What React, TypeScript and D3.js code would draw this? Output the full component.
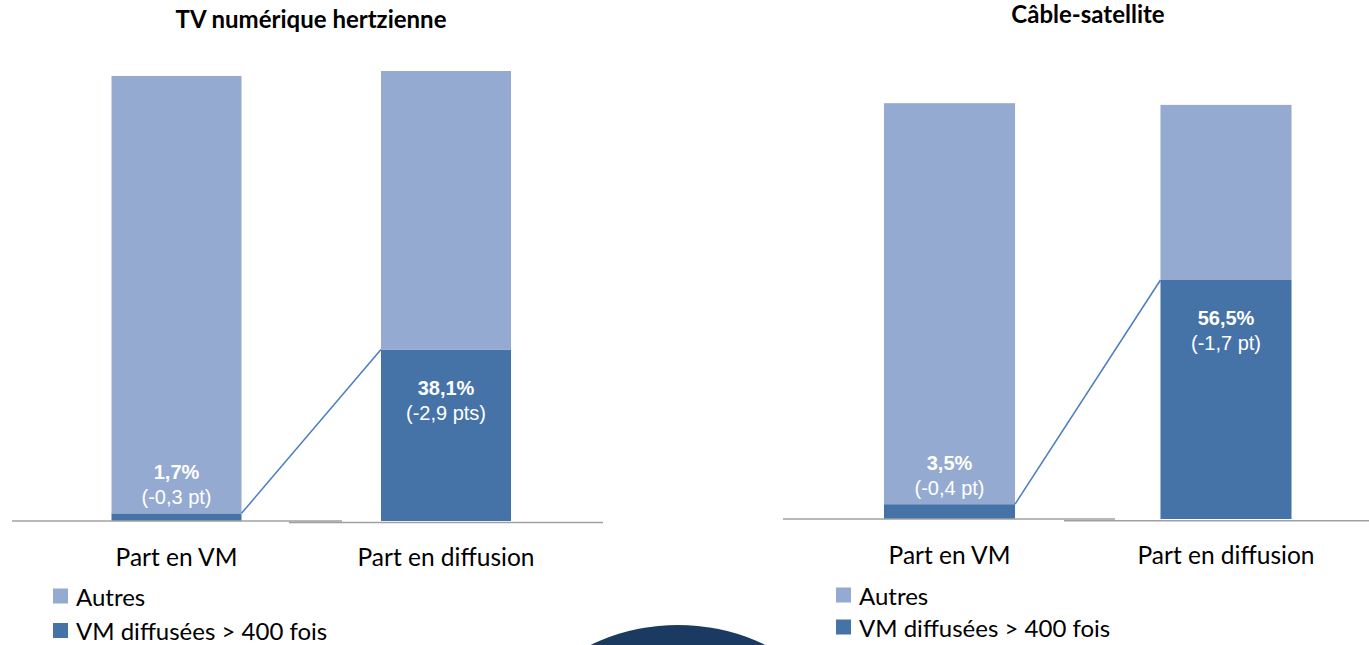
import React from "react";
import * as d3 from "d3";

const categories = ["Part en VM", "Part en diffusion"];
const seriesNames = ["Autres", "VM diffusées > 400 fois"];
const panelTitles = ["TV numérique hertzienne", "Câble-satellite"];
const tntVM = [1.7, 38.1];
const tntAutres = [97.2, 61.9];
const tntDeltas = ["(-0,3 pt)", "(-2,9 pts)"];
const cabVM = [3.5, 56.5];
const cabAutres = [94.8, 41.4];
const cabDeltas = ["(-0,4 pt)", "(-1,7 pt)"];

const C_LIGHT = "#95AAD0";
const C_DARK = "#4573A7";
const C_LINE = "#4A7CC0";
const C_AXIS = "#A0A0A0";

const TEXT_FONT = "Lato, 'Open Sans', sans-serif";
const LABEL_FONT = "'Liberation Sans', Arial, sans-serif";

const fmt = (v: number) => d3.format(".1f")(v).replace(".", ",") + "%";

type Panel = {
  title: string;
  vm: number[];
  autres: number[];
  deltas: string[];
  titleX: number;
  titleY: number;
  xRange: [number, number];
  padInner: number;
  base: number;
  full: number;
  axes: { x1: number; x2: number; y: number }[];
  catY: number;
  legX: number;
  legY: number[];
};

const panels: Panel[] = [
  {
    title: panelTitles[0],
    vm: tntVM,
    autres: tntAutres,
    deltas: tntDeltas,
    titleX: 311,
    titleY: 18,
    xRange: [41.75, 580.75],
    padInner: 0.5176,
    base: 521,
    full: 450,
    axes: [
      { x1: 12, x2: 342, y: 521 },
      { x1: 289, x2: 603, y: 522.5 },
    ],
    catY: 556,
    legX: 53,
    legY: [596, 630.5],
  },
  {
    title: panelTitles[1],
    vm: cabVM,
    autres: cabAutres,
    deltas: cabDeltas,
    titleX: 1088,
    titleY: 13.5,
    xRange: [811.25, 1364.25],
    padInner: 0.526,
    base: 519,
    full: 423,
    axes: [
      { x1: 783, x2: 1115, y: 519 },
      { x1: 1064, x2: 1369, y: 520.7 },
    ],
    catY: 554,
    legX: 836,
    legY: [595, 627],
  },
];

function PanelView({ p }: { p: Panel }) {
  const x = d3
    .scaleBand<string>()
    .domain(categories)
    .range(p.xRange)
    .paddingInner(p.padInner)
    .paddingOuter(p.padInner / 2);
  const y = d3.scaleLinear().domain([0, 100]).range([p.base, p.base - p.full]);
  const bw = x.bandwidth();

  const rows = categories.map((c, i) => ({ cat: c, vm: p.vm[i], autres: p.autres[i] }));
  const stack = d3.stack<any>().keys(["vm", "autres"])(rows);

  const x0 = (x(categories[0]) as number) + bw;
  const x1 = x(categories[1]) as number;
  const line = d3.line<[number, number]>()([
    [x0, y(p.vm[0])],
    [x1, y(p.vm[1])],
  ]);

  return (
    <g>
      <text
        x={p.titleX}
        y={p.titleY}
        textAnchor="middle"
        dominantBaseline="central"
        fontFamily={TEXT_FONT}
        fontWeight="bold"
        fontSize={24}
        fill="#000"
      >
        {p.title}
      </text>
      {stack.map((s, si) =>
        s.map((d, i) => (
          <rect
            key={si + "-" + i}
            x={x(categories[i])}
            y={y(d[1])}
            width={bw}
            height={y(d[0]) - y(d[1])}
            fill={si === 0 ? C_DARK : C_LIGHT}
          />
        ))
      )}
      {p.axes.map((a, i) => (
        <line key={i} x1={a.x1} x2={a.x2} y1={a.y} y2={a.y} stroke={C_AXIS} strokeWidth={1.5} />
      ))}
      <path d={line as string} stroke={C_LINE} strokeWidth={1.5} fill="none" />
      {categories.map((c, i) => {
        const top = y(p.vm[i]);
        const h = p.base - top;
        const cy = h < 40 ? top - 41 : top + 38;
        const cx = (x(c) as number) + bw / 2;
        return (
          <g key={c} fontFamily={LABEL_FONT} fontSize={20} fill="#fff" textAnchor="middle">
            <text x={cx} y={cy} dominantBaseline="central" fontWeight="bold">
              {fmt(p.vm[i])}
            </text>
            <text x={cx} y={cy + 25} dominantBaseline="central">
              {p.deltas[i]}
            </text>
          </g>
        );
      })}
      {categories.map((c) => (
        <text
          key={c}
          x={(x(c) as number) + bw / 2}
          y={p.catY}
          textAnchor="middle"
          dominantBaseline="central"
          fontFamily={TEXT_FONT}
          fontSize={24.5}
          fill="#000"
        >
          {c}
        </text>
      ))}
      {seriesNames.map((n, i) => (
        <g key={n}>
          <rect x={p.legX} y={p.legY[i] - 7.5} width={15} height={15} fill={i === 0 ? C_LIGHT : C_DARK} />
          <text
            x={p.legX + 23}
            y={p.legY[i]}
            dominantBaseline="central"
            fontFamily={TEXT_FONT}
            fontSize={24}
            fill="#000"
          >
            {n}
          </text>
        </g>
      ))}
    </g>
  );
}

export default function App() {
  return (
    <svg
      width={1369}
      height={645}
      style={{ position: "absolute", left: 0, top: 0, background: "#fff" }}
    >
      <rect x={0} y={0} width={1369} height={645} fill="#fff" />
      {panels.map((p, i) => (
        <PanelView key={i} p={p} />
      ))}
      <circle cx={678} cy={826} r={201} fill="#1A3A62" />
    </svg>
  );
}
